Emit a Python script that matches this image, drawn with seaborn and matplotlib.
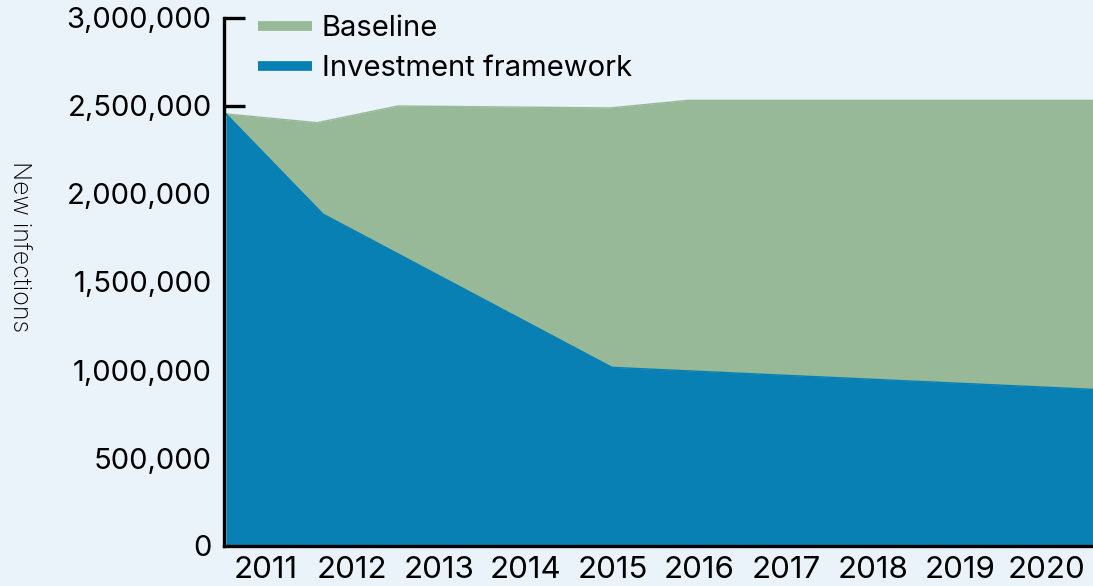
import matplotlib
matplotlib.use("Agg")
import matplotlib.pyplot as plt
from matplotlib.lines import Line2D
from matplotlib.ticker import FuncFormatter
import seaborn as sns
import pandas as pd

# ---- data ----
baseline_x = [2010.545, 2011.593, 2012.526, 2014.969, 2015.867, 2020.533]
baseline_y = [2455000, 2405000, 2500000, 2489000, 2532000, 2532000]
invest_x = [2010.545, 2011.662, 2014.992, 2020.533]
invest_y = [2455000, 1886000, 1015000, 890000]
year_ticks = [2011, 2012, 2013, 2014, 2015, 2016, 2017, 2018, 2019, 2020]
y_ticks = [0, 500000, 1000000, 1500000, 2000000, 2500000, 3000000]
series_names = ["Baseline", "Investment framework"]

BG = "#eaf2fa"
GREEN = "#97b997"
BLUE = "#0880b4"

sns.set_theme(style="white")
plt.rcParams["font.family"] = ["Inter", "DejaVu Sans"]

fig = plt.figure(figsize=(10.93, 5.86), dpi=100, facecolor=BG)
ax = fig.add_axes([224 / 1093, 1 - 546 / 586, (1093 - 224) / 1093, (546 - 18) / 586])
ax.set_facecolor(BG)

bdf = pd.DataFrame({"x": baseline_x, "y": baseline_y})
idf = pd.DataFrame({"x": invest_x, "y": invest_y})

ax.fill_between(bdf["x"], 0, bdf["y"], color=GREEN, linewidth=0, zorder=1)
sns.lineplot(data=bdf, x="x", y="y", ax=ax, color=GREEN, linewidth=1, zorder=2)
ax.fill_between(idf["x"], 0, idf["y"], color=BLUE, linewidth=0, zorder=3)
sns.lineplot(data=idf, x="x", y="y", ax=ax, color=BLUE, linewidth=1, zorder=4)

xmin = 2011 + (224 - 265.5) / 86.8
xmax = 2011 + (1093 - 265.5) / 86.8
ax.set_xlim(xmin, xmax)
ax.set_ylim(0, 3000000)
ax.set_xticks(year_ticks)
ax.set_xticklabels([str(y) for y in year_ticks])
ax.set_yticks(y_ticks)
ax.yaxis.set_major_formatter(FuncFormatter(lambda v, p: f"{int(v):,}"))
ax.set_xlabel("")
ax.set_ylabel("")

for s in ["top", "right"]:
    ax.spines[s].set_visible(False)
for s in ["left", "bottom"]:
    ax.spines[s].set_visible(True)
    ax.spines[s].set_color("black")
    ax.spines[s].set_linewidth(2.4)
    ax.spines[s].set_zorder(10)

ax.tick_params(axis="y", direction="in", length=15, width=2.4, color="black",
               labelsize=21, pad=9, left=True, labelcolor="black")
ax.tick_params(axis="x", length=0, labelsize=22.5, pad=7, labelcolor="black")
for val, t in zip(y_ticks, ax.yaxis.get_major_ticks()):
    t.tick1line.set_visible(val >= 2500000)
    t.tick1line.set_zorder(10)

fig.text(19 / 1093, 1 - 247 / 586, "New infections", rotation=270,
         ha="center", va="center", fontsize=18, color="black", fontweight="light")

handles = [Line2D([0], [0], color=GREEN, lw=7, solid_capstyle="butt"),
           Line2D([0], [0], color=BLUE, lw=7, solid_capstyle="butt")]
leg = ax.legend(handles, series_names, loc="upper left",
                bbox_to_anchor=(252 / 1093, 1 - 9 / 586), bbox_transform=fig.transFigure,
                frameon=False, fontsize=21, handlelength=1.85, handletextpad=0.34,
                labelspacing=0.45, borderpad=0.2, borderaxespad=0)
for t in leg.get_texts():
    t.set_color("black")

fig.savefig("out.png", dpi=100, facecolor=BG)
